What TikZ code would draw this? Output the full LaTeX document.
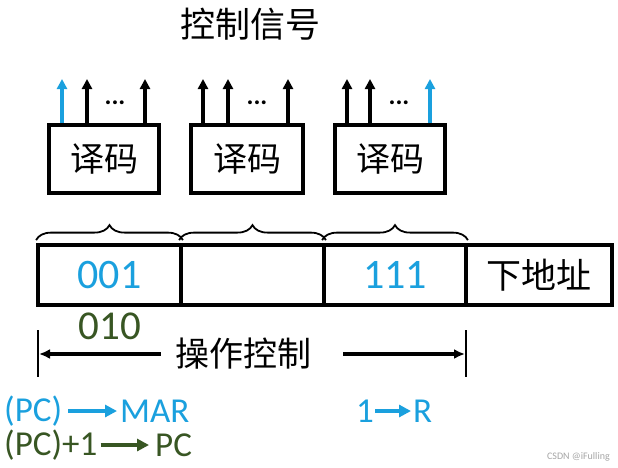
\documentclass[tikz,border=0pt]{standalone}
\usepackage{fontspec}
\setmainfont{Carlito}
\newfontfamily\cjk{Noto Sans CJK SC}
\usetikzlibrary{arrows.meta,decorations.pathreplacing}
\definecolor{cblue}{RGB}{26,160,222}
\definecolor{cgreen}{RGB}{56,86,35}
\tikzset{
  decbox/.style={draw,line width=3.6pt,inner sep=0pt,minimum width=110pt,minimum height=68pt,font=\cjk\fontsize{34}{34}\selectfont},
  cell/.style={draw,line width=3.8pt,inner sep=0pt,minimum height=60pt,font=\fontsize{42}{42}\selectfont},
  sig/.style={line width=3.4pt,-{Triangle[length=10pt,width=10pt]}},
  dots/.style={font=\bfseries\fontsize{26}{26}\selectfont,inner sep=0pt},
  brc/.style={decorate,decoration={brace,amplitude=15pt},line width=1.8pt},
  dimarr/.style={line width=3.2pt,-{Latex[length=11pt,width=10pt]}},
  tick/.style={line width=2.8pt},
  tx/.style={font=\fontsize{35}{35}\selectfont,inner sep=0pt},
  txarr/.style={line width=4pt,-{Triangle[length=12pt,width=12pt]}},
}
\begin{document}
\begin{tikzpicture}[x=1pt,y=-1pt]
\useasboundingbox[fill=white] (0,0) rectangle (618,467);
% title
\node[font=\cjk\fontsize{35}{35}\selectfont,inner sep=0pt] (title) at (250,24) {控制信号};
% decoders
\node[decbox] (d1) at (104,159) {译码};
\node[decbox,minimum width=112pt] (d2) at (247,159) {译码};
\node[decbox] (d3) at (390,159) {译码};
% signal arrow tips
\coordinate (s1a) at (62,79);  \coordinate (s1b) at (87,79);  \coordinate (s1c) at (145,79);
\coordinate (s2a) at (203,79); \coordinate (s2b) at (228,79); \coordinate (s2c) at (288,79);
\coordinate (s3a) at (347,79); \coordinate (s3b) at (370,79); \coordinate (s3c) at (430,79);
\draw[sig,cblue] (s1a |- d1.north) -- (s1a);
\draw[sig] (s1b |- d1.north) -- (s1b);
\draw[sig] (s1c |- d1.north) -- (s1c);
\draw[sig] (s2a |- d2.north) -- (s2a);
\draw[sig] (s2b |- d2.north) -- (s2b);
\draw[sig] (s2c |- d2.north) -- (s2c);
\draw[sig] (s3a |- d3.north) -- (s3a);
\draw[sig] (s3b |- d3.north) -- (s3b);
\draw[sig,cblue] (s3c |- d3.north) -- (s3c);
\node[dots] (dt1) at (115,103) {...};
\node[dots] (dt2) at (257,103) {...};
\node[dots] (dt3) at (399,103) {...};
% register
\node[cell,minimum width=143pt,text=cblue] (c1) at (109.5,275) {001};
\node[cell,minimum width=143pt] (c2) at (252.5,275) {};
\node[cell,minimum width=142pt,text=cblue] (c3) at (395,275) {111};
\node[cell,minimum width=146pt,font=\cjk\fontsize{35}{35}\selectfont] (c4) at (539,275) {下地址};
% braces
\draw[brc] ([yshift=3pt]c1.north west) -- ([yshift=3pt]c1.north east);
\draw[brc] ([yshift=3pt]c2.north west) -- ([yshift=3pt]c2.north east);
\draw[brc] ([yshift=3pt]c3.north west) -- ([yshift=3pt]c3.north east);
% 010
\node[font=\fontsize{41}{41}\selectfont,text=cgreen,inner sep=0pt] (g010) at (110,326) {010};
% dimension
\coordinate (tlt) at (38,330); \coordinate (tlb) at (38,377);
\coordinate (trt) at (466,330); \coordinate (trb) at (466,377);
\draw[tick] (tlt) -- (tlb);
\draw[tick] (trt) -- (trb);
\node[font=\cjk\fontsize{34}{34}\selectfont,inner sep=0pt] (op) at (243,354) {操作控制};
\coordinate (dl) at (39,354); \coordinate (dr) at (465,354);
\draw[dimarr] ([xshift=-14pt]op.west) -- (dl);
\draw[dimarr] ([xshift=32pt]op.east) -- (dr);
% bottom formulas
\node[tx,text=cblue,anchor=west] (pc1) at (4,411) {(PC)};
\node[tx,text=cblue,anchor=west] (mar) at (120,411) {MAR};
\draw[txarr,cblue] ([xshift=6pt]pc1.east) -- ([xshift=-3pt]mar.west);
\node[tx,text=cblue,anchor=west] (one) at (356,411) {1};
\node[tx,text=cblue,anchor=west] (rr) at (413,411) {R};
\draw[txarr,cblue] ([xshift=1pt]one.east) -- ([xshift=-2pt]rr.west);
\node[tx,text=cgreen,anchor=west] (pc2) at (4,445) {(PC)+1};
\node[tx,text=cgreen,anchor=west] (pc3) at (155,445) {PC};
\draw[txarr,cgreen] ([xshift=3pt]pc2.east) -- ([xshift=-6pt]pc3.west);
% watermark
\node[font=\fontsize{10}{10}\selectfont,text=black!35,anchor=east,inner sep=0pt] (wm) at (610,457) {CSDN @iFulling};
\end{tikzpicture}
\end{document}
